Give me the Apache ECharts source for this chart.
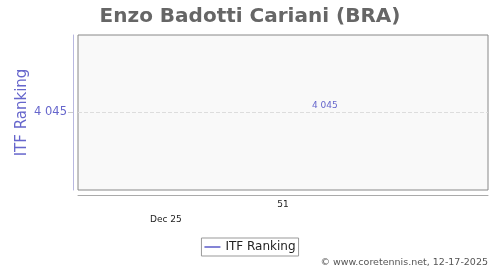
<!DOCTYPE html>
<html><head><meta charset="utf-8">
<script src="https://cdn.jsdelivr.net/npm/echarts@6/dist/echarts.min.js"></script>
<style>html,body{margin:0;padding:0;background:#fff}#c{width:500px;height:270px}</style>
</head><body><div id="c"></div>
<script>
const titleText = 'Enzo Badotti Cariani (BRA)';
const seriesName = 'ITF Ranking';
const dates = ['2025-12-20'];
const rankings = [4045];
const yTicks = [4045];
const weekTickDate = '2025-12-15';
const weekTickLabel = '51';
const monthTickDate = '2025-12-01';
const monthTickLabel = 'Dec 25';
const footer = '© www.coretennis.net, 12-17-2025';

// day number (days since epoch)
const d = s => Math.round(new Date(s + 'T00:00:00Z').getTime() / 86400000);
const xMin = d('2025-11-20') + 0.5;
const xMax = d('2026-01-08') + 0.5;
const fmt = v => String(v).replace(/\B(?=(\d{3})+(?!\d))/g, ' ');
const font = 'DejaVu Sans';

const chart = echarts.init(document.getElementById('c'), null, {renderer:'canvas'});
chart.setOption({
  animation:false,
  textStyle:{fontFamily:font},
  title:{text:titleText,left:'center',top:2,textStyle:{fontFamily:font,fontSize:20,fontWeight:'bold',color:'#666'}},
  grid:{left:78,right:12,top:35,bottom:80,outerBoundsMode:'none',containLabel:false,show:true,backgroundColor:'#f9f9f9',borderColor:'#888',borderWidth:1},
  xAxis:[{
    type:'value',min:xMin,max:xMax,position:'bottom',offset:5,
    axisLine:{show:true,onZero:false,lineStyle:{color:'#aaa',width:1}},
    axisTick:{show:false},splitLine:{show:false},
    axisLabel:{customValues:[d(weekTickDate)],formatter:()=>weekTickLabel,fontSize:9,color:'#222',margin:5}
  },{
    type:'value',min:xMin,max:xMax,position:'bottom',offset:20,
    axisLine:{show:false},axisTick:{show:false},splitLine:{show:false},
    axisLabel:{customValues:[d(monthTickDate)],formatter:()=>monthTickLabel,fontSize:9,color:'#222',margin:5}
  }],
  yAxis:{
    type:'value',min:4044,max:4046,offset:5,
    name:seriesName,nameLocation:'middle',nameGap:43,nameMoveOverlap:false,
    nameTextStyle:{color:'#6666cc',fontSize:15,fontFamily:font},
    axisLine:{show:true,lineStyle:{color:'#b8b8e0',width:1}},
    axisTick:{show:true,customValues:yTicks,length:5,lineStyle:{color:'#ccc'}},
    axisLabel:{customValues:yTicks,formatter:v=>fmt(v),color:'#6666cc',fontSize:11.5,margin:6},
    splitLine:{show:true,lineStyle:{color:'#ddd',type:'dashed'}}
  },
  legend:{bottom:14,left:'center',data:[seriesName],icon:'path://M0,0 L20,0 L20,2 L0,2 Z',itemWidth:16,itemHeight:2,
    borderColor:'#999',borderWidth:1,padding:[3,3,3,3],itemGap:4,
    textStyle:{fontSize:12,color:'#222',fontFamily:font}},
  series:[{
    name:seriesName,type:'line',xAxisIndex:0,
    data:dates.map((s,i)=>[d(s),rankings[i]]),
    color:'#6666cc',lineStyle:{color:'#6666cc',width:1.5},
    symbol:'circle',symbolSize:0.1,
    label:{show:true,position:'top',distance:2,formatter:p=>fmt(p.value[1]),fontSize:9,color:'#6666cc'}
  }],
  graphic:[{type:'text',right:12,bottom:2,style:{text:footer,font:'9.5px '+font,fill:'#555'}}]
});
</script></body></html>
